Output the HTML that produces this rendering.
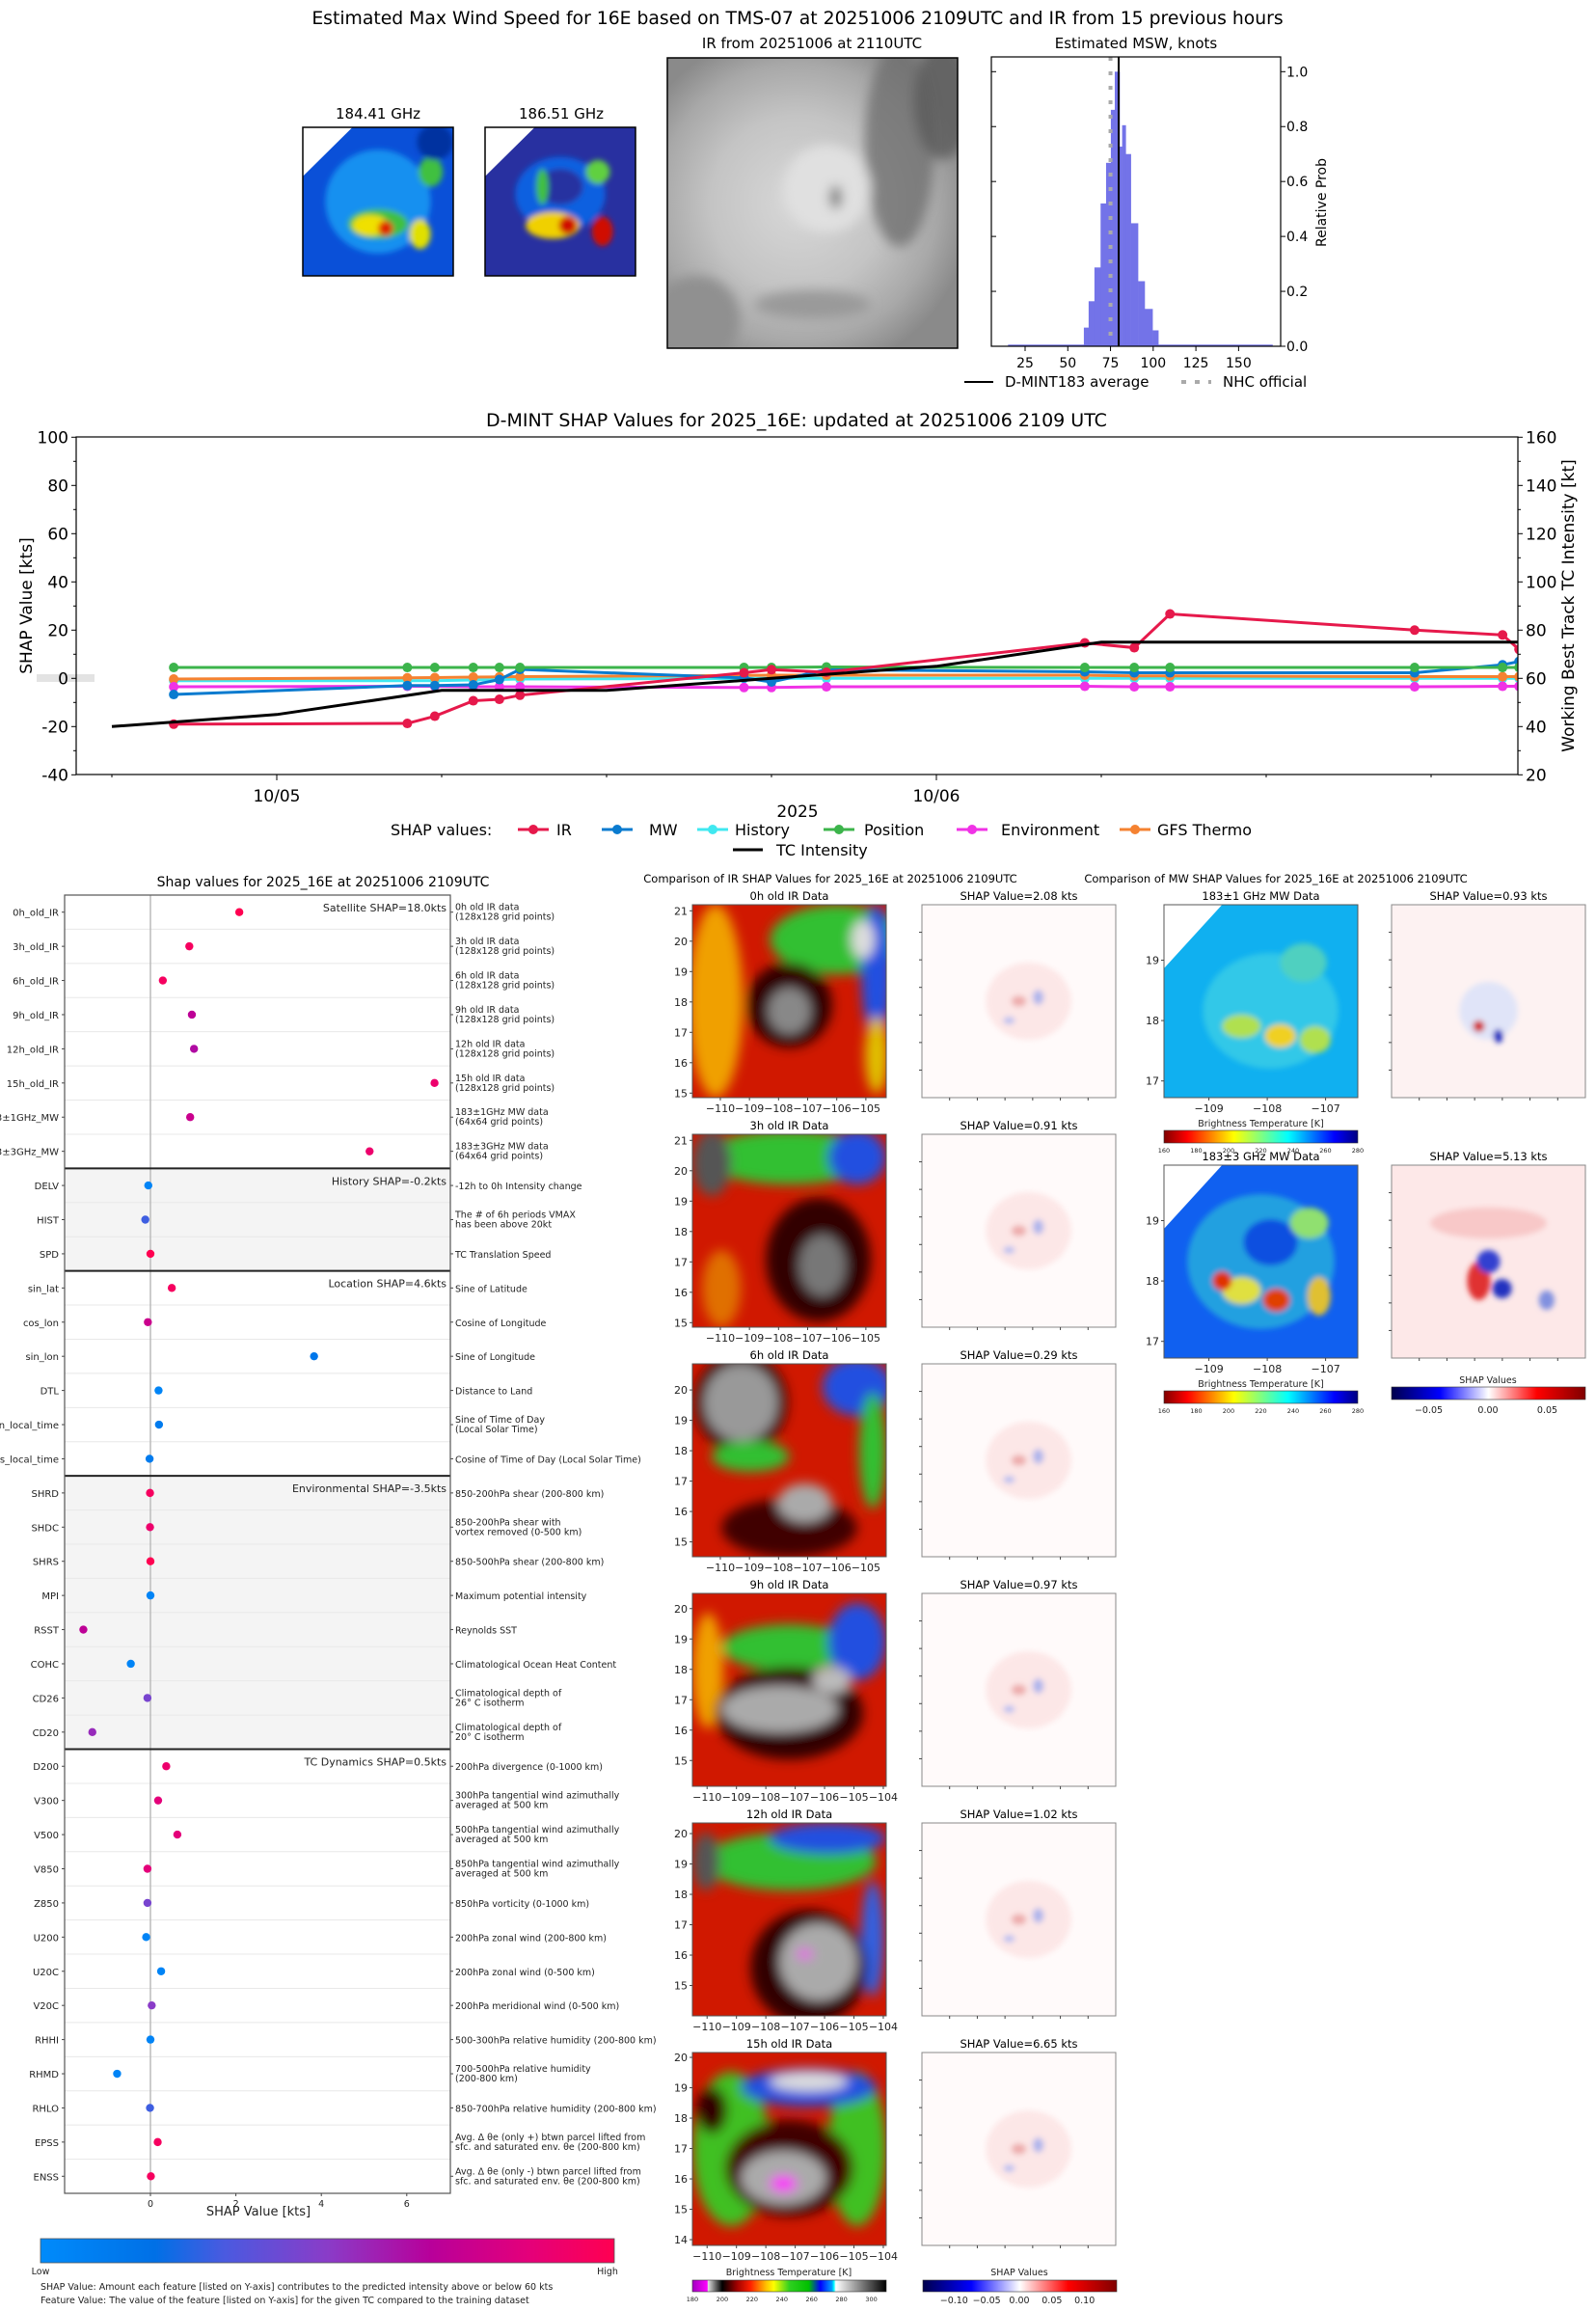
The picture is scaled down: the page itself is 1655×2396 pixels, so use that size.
<!DOCTYPE html>
<html><head><meta charset="utf-8"><title>D-MINT 16E</title>
<style>
html,body{margin:0;padding:0;background:#fff;}
svg{display:block;font-family:"DejaVu Sans","Liberation Sans",sans-serif;}
</style></head>
<body>
<svg id="root" width="1655" height="2396" viewBox="0 0 1655 2396" xmlns="http://www.w3.org/2000/svg">
<defs>
<filter id="blur6" x="-30%" y="-30%" width="160%" height="160%"><feGaussianBlur stdDeviation="6"/></filter>
<filter id="blur3" x="-30%" y="-30%" width="160%" height="160%"><feGaussianBlur stdDeviation="3"/></filter>
<linearGradient id="shapcmap" x1="0" x2="1" y1="0" y2="0">
<stop offset="0" stop-color="#008bfb"/><stop offset="0.2" stop-color="#0070e6"/><stop offset="0.32" stop-color="#4a5ae0"/><stop offset="0.5" stop-color="#8a3cc8"/><stop offset="0.68" stop-color="#b8009a"/><stop offset="0.85" stop-color="#e4007a"/><stop offset="1" stop-color="#ff0051"/>
</linearGradient>
<linearGradient id="btcmap" x1="0" x2="1" y1="0" y2="0">
<stop offset="0" stop-color="#a000c0"/><stop offset="0.077" stop-color="#ff00ff"/><stop offset="0.08" stop-color="#e0e0e0"/><stop offset="0.154" stop-color="#000"/><stop offset="0.23" stop-color="#a00000"/><stop offset="0.3" stop-color="#ff2000"/><stop offset="0.38" stop-color="#ffc000"/><stop offset="0.42" stop-color="#ffff00"/><stop offset="0.5" stop-color="#30d020"/><stop offset="0.6" stop-color="#00c000"/><stop offset="0.66" stop-color="#0000ff"/><stop offset="0.72" stop-color="#00a0ff"/><stop offset="0.73" stop-color="#00ffff"/><stop offset="0.74" stop-color="#ffffff"/><stop offset="1" stop-color="#000"/>
</linearGradient>
<linearGradient id="jetr" x1="0" x2="1" y1="0" y2="0">
<stop offset="0" stop-color="#800000"/><stop offset="0.12" stop-color="#ff0000"/><stop offset="0.36" stop-color="#ffff00"/><stop offset="0.5" stop-color="#80ff80"/><stop offset="0.64" stop-color="#00ffff"/><stop offset="0.88" stop-color="#0000ff"/><stop offset="1" stop-color="#000080"/>
</linearGradient>
<linearGradient id="bwr" x1="0" x2="1" y1="0" y2="0">
<stop offset="0" stop-color="#00004c"/><stop offset="0.25" stop-color="#0000ff"/><stop offset="0.5" stop-color="#ffffff"/><stop offset="0.75" stop-color="#ff0000"/><stop offset="1" stop-color="#800000"/>
</linearGradient>
<radialGradient id="irgray" cx="0.45" cy="0.5" r="0.6">
<stop offset="0" stop-color="#d8d8d8"/><stop offset="0.5" stop-color="#c4c4c4"/><stop offset="0.8" stop-color="#a8a8a8"/><stop offset="1" stop-color="#8a8a8a"/>
</radialGradient>
</defs>
</svg>
<script>
// ===== data arrays =====
const histEdges = [59.4,62.2,65.6,69.2,72.4,75.2,77.5,80.3,81.8,83.9,86.9,91.1,95.0,99.6,103.0];
const histProb = [0.068,0.164,0.287,0.52,0.668,0.861,1.0,0.727,0.805,0.70,0.448,0.237,0.136,0.058];
const histXTicks = [25,50,75,100,125,150];
const histYTicks = [0.0,0.2,0.4,0.6,0.8,1.0];
const dmintAvg = 79.8;
const nhcOfficial = 75;

const tsHours = [-3.75,4.75,5.75,7.15,8.1,8.85,17,18,20,29.4,31.2,32.5,41.4,44.6,45.2];
const shapIR = [-19,-18.7,-15.7,-9.3,-8.7,-7,2.3,3.6,2.5,14.7,12.7,26.7,20,18,12];
const shapMW = [-6.7,-3,-3,-2.7,-0.5,3.7,0.2,-1.5,3.6,2.7,2.3,2.3,2.3,5.6,7];
const shapHist = [-1,-1,-1,-0.7,-0.5,-0.3,0,0,0,0,0,0,0,0,0];
const shapPos = [4.5,4.5,4.5,4.5,4.5,4.5,4.5,4.5,4.7,4.5,4.5,4.5,4.5,4.5,4.5];
const shapEnv = [-3.5,-3.3,-3.3,-3.5,-3.5,-3.5,-3.8,-3.8,-3.5,-3.3,-3.5,-3.5,-3.5,-3.3,-3.3];
const shapGFS = [-0.3,0.2,0.3,0.5,0.6,0.7,1.2,1.3,1.3,1.3,1.0,1.0,0.7,0.7,0.7];
const tcHours = [-6,0,6,12,18,24,30,45.2];
const tcIntensity = [40,45,55,55,60,65,75,75];
const tsLeftTicks = [-40,-20,0,20,40,60,80,100];
const tsRightTicks = [20,40,60,80,100,120,140,160];
const tsDateTicks = ['10/05','10/06'];
const tsDateHours = [0,24];

const featNames = ['0h_old_IR','3h_old_IR','6h_old_IR','9h_old_IR','12h_old_IR','15h_old_IR','183±1GHz_MW','183±3GHz_MW','DELV','HIST','SPD','sin_lat','cos_lon','sin_lon','DTL','sin_local_time','cos_local_time','SHRD','SHDC','SHRS','MPI','RSST','COHC','CD26','CD20','D200','V300','V500','V850','Z850','U200','U20C','V20C','RHHI','RHMD','RHLO','EPSS','ENSS'];
const featShap = [2.08,0.91,0.29,0.97,1.02,6.65,0.93,5.13,-0.05,-0.12,0,0.5,-0.06,3.83,0.19,0.2,-0.02,-0.01,-0.01,0,0,-1.57,-0.46,-0.07,-1.36,0.37,0.18,0.63,-0.07,-0.07,-0.1,0.25,0.03,0,-0.78,-0.01,0.17,0.01];
const featValue = [1,0.95,0.95,0.7,0.65,0.9,0.75,0.9,0.05,0.3,1,0.95,0.75,0.15,0.05,0.12,0.12,0.95,0.9,1,0.05,0.7,0.05,0.45,0.55,0.9,0.85,0.85,0.85,0.45,0.05,0.05,0.5,0.05,0.05,0.3,0.95,0.95];
const featDesc = [['0h old IR data','(128x128 grid points)'],['3h old IR data','(128x128 grid points)'],['6h old IR data','(128x128 grid points)'],['9h old IR data','(128x128 grid points)'],['12h old IR data','(128x128 grid points)'],['15h old IR data','(128x128 grid points)'],['183±1GHz MW data','(64x64 grid points)'],['183±3GHz MW data','(64x64 grid points)'],['-12h to 0h Intensity change'],['The # of 6h periods VMAX','has been above 20kt'],['TC Translation Speed'],['Sine of Latitude'],['Cosine of Longitude'],['Sine of Longitude'],['Distance to Land'],['Sine of Time of Day','(Local Solar Time)'],['Cosine of Time of Day (Local Solar Time)'],['850-200hPa shear (200-800 km)'],['850-200hPa shear with','vortex removed (0-500 km)'],['850-500hPa shear (200-800 km)'],['Maximum potential intensity'],['Reynolds SST'],['Climatological Ocean Heat Content'],['Climatological depth of','26° C isotherm'],['Climatological depth of','20° C isotherm'],['200hPa divergence (0-1000 km)'],['300hPa tangential wind azimuthally','averaged at 500 km'],['500hPa tangential wind azimuthally','averaged at 500 km'],['850hPa tangential wind azimuthally','averaged at 500 km'],['850hPa vorticity (0-1000 km)'],['200hPa zonal wind (200-800 km)'],['200hPa zonal wind (0-500 km)'],['200hPa meridional wind (0-500 km)'],['500-300hPa relative humidity (200-800 km)'],['700-500hPa relative humidity','(200-800 km)'],['850-700hPa relative humidity (200-800 km)'],['Avg. Δ θe (only +) btwn parcel lifted from','sfc. and saturated env. θe (200-800 km)'],['Avg. Δ θe (only -) btwn parcel lifted from','sfc. and saturated env. θe (200-800 km)']];
const groupNames = ['Satellite SHAP=18.0kts','History SHAP=-0.2kts','Location SHAP=4.6kts','Environmental SHAP=-3.5kts','TC Dynamics SHAP=0.5kts'];
const groupStart = [0,8,11,17,25];
const groupEnd = [8,11,17,25,38];
const featXTicks = [0,2,4,6];

const irTitles = ['0h old IR Data','3h old IR Data','6h old IR Data','9h old IR Data','12h old IR Data','15h old IR Data'];
const irShapVals = ['2.08','0.91','0.29','0.97','1.02','6.65'];
const btTicks = [180,200,220,240,260,280,300];
const mwTicks = [160,180,200,220,240,260,280];

// ===== helpers =====
const NS='http://www.w3.org/2000/svg';
const root=document.getElementById('root');
function mk(tag,attrs,parent){const e=document.createElementNS(NS,tag);for(const k in attrs)e.setAttribute(k,attrs[k]);(parent||root).appendChild(e);return e;}
function txt(s,x,y,size,anchor,parent,extra){const e=mk('text',Object.assign({x:x,y:y,'font-size':size,'text-anchor':anchor||'start',fill:'#000'},extra||{}),parent);e.textContent=s;return e;}
function grp(parent){return mk('g',{},parent);}

// ===== top title =====
let t=txt('Estimated Max Wind Speed for 16E based on TMS-07 at 20251006 2109UTC and IR from 15 previous hours',827,25,18.8,'middle');



// ===== top microwave images =====
function mwImage(x,y,w,h,base,blobs,name){
  const g=grp();
  
  
  const cid='c'+name;
  const cp=mk('clipPath',{id:cid},g);mk('rect',{x:x,y:y,width:w,height:h},cp);
  const inner=mk('g',{'clip-path':'url(#'+cid+')'},g);
  mk('rect',{x:x,y:y,width:w,height:h,fill:base},inner);
  const bl=mk('g',{filter:'url(#blur3)'},inner);
  blobs.forEach(b=>mk('ellipse',{cx:x+b[0]*w,cy:y+b[1]*h,rx:b[2]*w,ry:b[3]*h,fill:b[4]},bl));
  mk('polygon',{points:`${x},${y} ${x+0.33*w},${y} ${x},${y+0.33*h}`,fill:'#fff'},inner);
  mk('rect',{x:x,y:y,width:w,height:h,fill:'none',stroke:'#000','stroke-width':1.5},g);
  return g;
}
t=txt('184.41 GHz',392,123,15,'middle');


t=txt('186.51 GHz',582,123,15,'middle');


mwImage(314,132,156,154,'#0a50d8',[[0.5,0.5,0.35,0.35,'#1890f0'],[0.85,0.3,0.08,0.1,'#40c040'],[0.5,0.65,0.2,0.1,'#40c040'],[0.45,0.66,0.12,0.07,'#f0e000'],[0.55,0.68,0.05,0.05,'#e02000'],[0.78,0.72,0.07,0.1,'#e0e000'],[0.88,0.1,0.12,0.12,'#0030a0']],'mw184-image');
mwImage(503,132,156,154,'#2830a0',[[0.5,0.45,0.3,0.25,'#1060e0'],[0.5,0.4,0.15,0.12,'#2830a0'],[0.75,0.3,0.08,0.08,'#60d040'],[0.38,0.4,0.04,0.12,'#40c040'],[0.45,0.66,0.18,0.09,'#f0d000'],[0.55,0.66,0.06,0.06,'#d01000'],[0.78,0.7,0.07,0.1,'#d01000']],'mw186-image');

// IR grayscale
t=txt('IR from 20251006 at 2110UTC',842,50,15,'middle');


(function(){
  const x=692,y=60,w=301,h=301;
  const g=grp();
  
  
  const cp=mk('clipPath',{id:'cirg'},g);mk('rect',{x:x,y:y,width:w,height:h},cp);
  const inner=mk('g',{'clip-path':'url(#cirg)'},g);
  mk('rect',{x:x,y:y,width:w,height:h,fill:'url(#irgray)'},inner);
  const bl=mk('g',{filter:'url(#blur6)'},inner);
  mk('ellipse',{cx:x+0.8*w,cy:y+0.3*h,rx:0.12*w,ry:0.35*h,fill:'#707070',opacity:0.8},bl);
  mk('ellipse',{cx:x+0.95*w,cy:y+0.15*h,rx:0.1*w,ry:0.2*h,fill:'#5a5a5a',opacity:0.8},bl);
  mk('ellipse',{cx:x+0.55*w,cy:y+0.45*h,rx:0.15*w,ry:0.15*h,fill:'#e0e0e0'},bl);
  mk('ellipse',{cx:x+0.58*w,cy:y+0.48*h,rx:0.02*w,ry:0.04*h,fill:'#707070'},bl);
  mk('ellipse',{cx:x+0.1*w,cy:y+0.9*h,rx:0.15*w,ry:0.15*h,fill:'#909090'},bl);
  mk('ellipse',{cx:x+0.5*w,cy:y+0.85*h,rx:0.2*w,ry:0.05*h,fill:'#9a9a9a'},bl);
  mk('rect',{x:x,y:y,width:w,height:h,fill:'none',stroke:'#000','stroke-width':1.5},g);
})();

// histogram
(function(){
  const L=1028,R=1328,T=59,B=359;
  const xs=v=>1063+(v-25)*1.771, ys=p=>B-p*284.7;
  t=txt('Estimated MSW, knots',1178,50,15,'middle');
  
  
  const g=grp();
  
  
  let tail=mk('rect',{x:xs(15),y:ys(0.006),width:xs(170)-xs(15),height:ys(0)-ys(0.006),fill:'#7373e8'},g);
  
  
  for(let i=0;i<histProb.length;i++){
    const r=mk('rect',{x:xs(histEdges[i]),y:ys(histProb[i]),width:xs(histEdges[i+1])-xs(histEdges[i])+0.3,height:ys(0)-ys(histProb[i]),fill:'#7373e8'},g);
    
    
  }
  let nl=mk('line',{x1:xs(nhcOfficial),x2:xs(nhcOfficial),y1:T,y2:B,stroke:'#aaa','stroke-width':4,'stroke-dasharray':'4,11'},g);
  
  
  let al=mk('line',{x1:xs(dmintAvg),x2:xs(dmintAvg),y1:T,y2:B,stroke:'#000','stroke-width':2},g);
  
  
  let fr=mk('rect',{x:L,y:T,width:R-L,height:B-T,fill:'none',stroke:'#000','stroke-width':1.2},g);
  
  
  histXTicks.forEach(v=>{mk('line',{x1:xs(v),x2:xs(v),y1:B,y2:B+5,stroke:'#000'},g);const l=txt(String(v),xs(v),B+22,14,'middle',g);});
  histYTicks.forEach(v=>{mk('line',{x1:R,x2:R+5,y1:ys(v),y2:ys(v),stroke:'#000'},g);mk('line',{x1:L,x2:L+5,y1:ys(v),y2:ys(v),stroke:'#000'},g);const l=txt(v.toFixed(1),R+6,ys(v)+5,14,'start',g);});
  let yl=txt('Relative Prob',0,0,14,'middle',g,{transform:'translate(1375,210) rotate(-90)'});
  
  
  let lg=grp();
  
  
  mk('line',{x1:1000,x2:1030,y1:396,y2:396,stroke:'#000','stroke-width':2},lg);
  txt('D-MINT183 average',1042,401,15,'start',lg);
  mk('line',{x1:1225,x2:1256,y1:396,y2:396,stroke:'#aaa','stroke-width':4,'stroke-dasharray':'5,9'},lg);
  txt('NHC official',1268,401,15,'start',lg);
})();

// ===== timeline SHAP chart =====
(function(){
  const L=79,R=1574,T=453,B=803;
  const xs=h=>287+h*28.5, ys=v=>703.3-v*2.5;
  t=txt('D-MINT SHAP Values for 2025_16E: updated at 20251006 2109 UTC',826,442,19,'middle');
  
  
  const g=grp();
  
  
  let band=mk('rect',{x:38,y:699,width:60,height:8,fill:'#e3e3e3'},g);
  
  
  const cp=mk('clipPath',{id:'tsclip'},g);mk('rect',{x:L,y:T,width:R-L,height:B-T},cp);
  const plot=mk('g',{'clip-path':'url(#tsclip)'},g);
  const series=[[shapHist,'#40e8f0','History'],[shapGFS,'#f58231','GFS Thermo'],[shapEnv,'#f032e6','Environment'],[shapMW,'#0a7bcf','MW'],[shapPos,'#3cb44b','Position'],[shapIR,'#e6194b','IR']];
  series.forEach(s=>{
    const sg=grp(plot);
    
    
    const pts=tsHours.map((h,i)=>xs(h)+','+ys(s[0][i])).join(' ');
    mk('polyline',{points:pts,fill:'none',stroke:s[1],'stroke-width':3},sg);
    tsHours.forEach((h,i)=>{const c=mk('circle',{cx:xs(h),cy:ys(s[0][i]),r:5,fill:s[1]},sg);});
  });
  const tc=mk('polyline',{points:tcHours.map((h,i)=>xs(h)+','+ys(tcIntensity[i]-60)).join(' '),fill:'none',stroke:'#000','stroke-width':3},plot);
  
  
  mk('rect',{x:L,y:T,width:R-L,height:B-T,fill:'none',stroke:'#000','stroke-width':1.2},g);
  tsLeftTicks.forEach(v=>{mk('line',{x1:L-5,x2:L,y1:ys(v),y2:ys(v),stroke:'#000'},g);const l=txt(String(v),L-8,ys(v)+6,17,'end',g);});
  for(let v=-30;v<100;v+=20){mk('line',{x1:L-3,x2:L,y1:ys(v),y2:ys(v),stroke:'#000'},g);}
  tsRightTicks.forEach(v=>{mk('line',{x1:R,x2:R+5,y1:ys(v-60),y2:ys(v-60),stroke:'#000'},g);const l=txt(String(v),R+8,ys(v-60)+6,17,'start',g);});
  for(let v=-30;v<100;v+=20){mk('line',{x1:R,x2:R+3,y1:ys(v),y2:ys(v),stroke:'#000'},g);}
  for(let h=-6;h<=42;h+=6){mk('line',{x1:xs(h),x2:xs(h),y1:B,y2:B+(h%24===0?6:3),stroke:'#000'},g);}
  tsDateTicks.forEach((d,i)=>{const l=txt(d,xs(tsDateHours[i]),B+28,17,'middle',g);});
  let yr=txt('2025',827,847,17,'middle',g);
  
  
  let ly=txt('SHAP Value [kts]',0,0,17,'middle',g,{transform:'translate(33,628) rotate(-90)'});
  
  
  let ry=txt('Working Best Track TC Intensity [kt]',0,0,17,'middle',g,{transform:'translate(1632,628) rotate(-90)'});
  
  
  const lg=grp();
  
  
  txt('SHAP values:',405,866,16,'start',lg);
  const le=[['IR','#e6194b',553,577],['MW','#0a7bcf',640,673],['History','#40e8f0',739,762],['Position','#3cb44b',870,896],['Environment','#f032e6',1008,1038],['GFS Thermo','#f58231',1177,1200]];
  le.forEach(e=>{const eg=grp(lg);mk('line',{x1:e[2]-16,x2:e[2]+16,y1:860,y2:860,stroke:e[1],'stroke-width':3},eg);mk('circle',{cx:e[2],cy:860,r:5,fill:e[1]},eg);txt(e[0],e[3],866,16,'start',eg);});
  const tg=grp(lg);
  
  
  mk('line',{x1:760,x2:791,y1:881,y2:881,stroke:'#000','stroke-width':3},tg);
  txt('TC Intensity',805,887,16,'start',tg);
})();

// ===== feature SHAP chart =====
(function(){
  const L=67,R=467,T=928,B=2274,N=featNames.length,rh=(B-T)/N;
  const xs=v=>156+v*44.3, yc=i=>T+(i+0.5)*rh;
  t=txt('Shap values for 2025_16E at 20251006 2109UTC',335,919,14,'middle');
  
  
  const g=grp();
  
  
  [1,3].forEach(k=>{const r=mk('rect',{x:L,y:T+groupStart[k]*rh,width:R-L,height:(groupEnd[k]-groupStart[k])*rh,fill:'#f4f4f4'},g);});
  for(let i=1;i<N;i++){mk('line',{x1:L,x2:R,y1:T+i*rh,y2:T+i*rh,stroke:'#e8e8e8','stroke-width':1},g);}
  mk('line',{x1:xs(0),x2:xs(0),y1:T,y2:B,stroke:'#bbb','stroke-width':1.5},g);
  groupStart.forEach((s,k)=>{
    if(k>0){const l=mk('line',{x1:L,x2:R,y1:T+s*rh,y2:T+s*rh,stroke:'#222','stroke-width':2},g);}
    const a=txt(groupNames[k],R-4,T+s*rh+17,11,'end',g,{fill:'#222'});
    
    
  });
  const cols=['#008bfb','#0070e6','#4a5ae0','#8a3cc8','#b8009a','#e4007a','#ff0051'];
  const stops=[0,0.2,0.32,0.5,0.68,0.85,1];
  function cmap(v){let i=0;while(i<stops.length-2&&v>stops[i+1])i++;const f=(v-stops[i])/(stops[i+1]-stops[i]);const a=cols[i],b=cols[i+1];const c=[1,3,5].map(j=>Math.round(parseInt(a.substr(j,2),16)*(1-f)+parseInt(b.substr(j,2),16)*f));return 'rgb('+c.join(',')+')';}
  for(let i=0;i<N;i++){
    const lab=txt(featNames[i],L-6,yc(i)+4,10,'end',g,{fill:'#222'});
    
    
    mk('line',{x1:L-3,x2:L,y1:yc(i),y2:yc(i),stroke:'#444'},g);
    mk('line',{x1:R,x2:R+3,y1:yc(i),y2:yc(i),stroke:'#444'},g);
    const d=featDesc[i];
    const dt=mk('text',{x:R+5,y:d.length>1?yc(i)-2:yc(i)+4,'font-size':9.5,fill:'#222'},g);
    
    
    d.forEach((s,j)=>{const ts=mk('tspan',{x:R+5,dy:j?10:0},dt);ts.textContent=s;});
    const c=mk('circle',{cx:xs(featShap[i]),cy:yc(i),r:4.2,fill:cmap(featValue[i])},g);
    
    
  }
  mk('rect',{x:L,y:T,width:R-L,height:B-T,fill:'none',stroke:'#555','stroke-width':1.2},g);
  featXTicks.forEach(v=>{mk('line',{x1:xs(v),x2:xs(v),y1:B,y2:B+3,stroke:'#444'},g);const l=txt(String(v),xs(v),B+14,9.5,'middle',g,{fill:'#222'});});
  let xl=txt('SHAP Value [kts]',268,2297,13,'middle',g,{fill:'#222'});
  
  
  let cb=mk('rect',{x:42,y:2321,width:595,height:25,fill:'url(#shapcmap)',stroke:'#555','stroke-width':0.8});
  
  
  let lo=txt('Low',42,2358,9.5,'middle',root,{fill:'#222'});
  
  
  let hi=txt('High',630,2358,9.5,'middle',root,{fill:'#222'});
  
  
  let n1=txt('SHAP Value: Amount each feature [listed on Y-axis] contributes to the predicted intensity above or below 60 kts',42,2374,9.5,'start',root,{fill:'#222'});
  
  
  let n2=txt('Feature Value: The value of the feature [listed on Y-axis] for the given TC compared to the training dataset',42,2388,9.5,'start',root,{fill:'#222'});
  
  
})();

// ===== IR comparison panels =====
const irBlobs=[
 [[0.12,0.5,0.14,0.5,'#f0a000'],[0.75,0.18,0.35,0.18,'#30c030'],[0.95,0.35,0.08,0.35,'#2050e0'],[0.88,0.18,0.06,0.1,'#dddddd'],[0.5,0.52,0.22,0.22,'#300000'],[0.5,0.55,0.11,0.12,'#888888'],[0.95,0.78,0.06,0.2,'#e0c000']],
 [[0.5,0.12,0.45,0.14,'#30c030'],[0.85,0.12,0.15,0.14,'#2050e0'],[0.1,0.15,0.1,0.17,'#555555'],[0.65,0.65,0.27,0.32,'#300000'],[0.67,0.68,0.12,0.16,'#777777'],[0.15,0.8,0.1,0.2,'#e07000']],
 [[0.85,0.12,0.18,0.15,'#2050e0'],[0.93,0.45,0.07,0.3,'#30c030'],[0.25,0.2,0.24,0.26,'#300000'],[0.25,0.2,0.19,0.2,'#999999'],[0.3,0.48,0.2,0.08,'#30c030'],[0.5,0.85,0.35,0.15,'#400000'],[0.58,0.72,0.14,0.1,'#aaaaaa']],
 [[0.5,0.28,0.35,0.12,'#30c030'],[0.85,0.25,0.15,0.2,'#2050e0'],[0.08,0.4,0.08,0.3,'#f0a000'],[0.5,0.62,0.38,0.24,'#300000'],[0.45,0.6,0.3,0.12,'#aaaaaa'],[0.72,0.45,0.1,0.07,'#bbbbbb']],
 [[0.5,0.2,0.45,0.15,'#30c030'],[0.7,0.08,0.3,0.08,'#2050e0'],[0.93,0.6,0.06,0.3,'#3060e0'],[0.07,0.2,0.07,0.15,'#555555'],[0.6,0.75,0.3,0.3,'#300000'],[0.65,0.72,0.2,0.2,'#aaaaaa'],[0.58,0.68,0.04,0.02,'#ff00ff']],
 [[0.2,0.5,0.2,0.4,'#40c020'],[0.85,0.5,0.15,0.4,'#40c020'],[0.6,0.18,0.35,0.1,'#2050e0'],[0.6,0.15,0.2,0.05,'#dddddd'],[0.1,0.3,0.08,0.12,'#300000'],[0.5,0.6,0.33,0.25,'#400000'],[0.47,0.65,0.22,0.14,'#aaaaaa'],[0.47,0.68,0.07,0.04,'#ff00ff']]
];
const irLatTop=[21.2,21.2,20.86,20.5,20.35,20.16];
const irLonRange=[[-110.96,-104.3],[-110.96,-104.3],[-110.96,-104.3],[-110.5,-103.9],[-110.5,-103.9],[-110.5,-103.9]];
t=txt('Comparison of IR SHAP Values for 2025_16E at 20251006 2109UTC',861,915,11.5,'middle');


for(let r=0;r<6;r++){
  const x=718,y=938+r*238,w=201,h=200;
  const g=grp();
  
  
  txt(irTitles[r],x+w/2,y-5,11.5,'middle',g);
  const cp=mk('clipPath',{id:'irc'+r},g);mk('rect',{x:x,y:y,width:w,height:h},cp);
  const inner=mk('g',{'clip-path':'url(#irc'+r+')'},g);
  mk('rect',{x:x,y:y,width:w,height:h,fill:'#d01800'},inner);
  const bl=mk('g',{filter:'url(#blur6)'},inner);
  irBlobs[r].forEach(b=>mk('ellipse',{cx:x+b[0]*w,cy:y+b[1]*h,rx:b[2]*w,ry:b[3]*h,fill:b[4]},bl));
  mk('rect',{x:x,y:y,width:w,height:h,fill:'none',stroke:'#555'},g);
  const top=irLatTop[r];
  for(let lat=Math.ceil(top-6.3);lat<=Math.floor(top);lat++){const yy=y+(top-lat)*31.5;if(yy>y+h)continue;mk('line',{x1:x-3,x2:x,y1:yy,y2:yy,stroke:'#444'},g);const l=txt(String(lat),x-5,yy+4,11,'end',g,{fill:'#222'});}
  const lr=irLonRange[r],pd=w/(lr[1]-lr[0]);
  for(let lon=Math.ceil(lr[0]);lon<=Math.floor(lr[1]);lon++){const xx=x+(lon-lr[0])*pd;mk('line',{x1:xx,x2:xx,y1:y+h,y2:y+h+3,stroke:'#444'},g);const l=txt('\u2212'+Math.abs(lon),xx,y+h+15,11,'middle',g,{fill:'#222'});}
  const sx=956,sg=grp();
  
  
  txt('SHAP Value='+irShapVals[r]+' kts',sx+w/2,y-5,11.5,'middle',sg);
  mk('rect',{x:sx,y:y,width:w,height:h,fill:'#fffafa',stroke:'#888'},sg);
  const sb=mk('g',{filter:'url(#blur3)',opacity:0.55},sg);
  mk('ellipse',{cx:sx+0.55*w,cy:y+0.5*h,rx:0.22*w,ry:0.2*h,fill:'#fbd8d8'},sb);
  mk('ellipse',{cx:sx+0.5*w,cy:y+0.5*h,rx:0.04*w,ry:0.03*h,fill:'#e07070'},sb);
  mk('ellipse',{cx:sx+0.6*w,cy:y+0.48*h,rx:0.03*w,ry:0.04*h,fill:'#7080e0'},sb);
  mk('ellipse',{cx:sx+0.45*w,cy:y+0.6*h,rx:0.03*w,ry:0.02*h,fill:'#8090e8'},sb);
  for(let k=1;k<7;k++){mk('line',{x1:sx+k*w/7,x2:sx+k*w/7,y1:y+h,y2:y+h+3,stroke:'#444'},sg);mk('line',{x1:sx-3,x2:sx,y1:y+k*h/7,y2:y+k*h/7,stroke:'#444'},sg);}
}
(function(){
  const g=grp();
  
  
  txt('Brightness Temperature [K]',818,2359,9.5,'middle',g,{fill:'#222'});
  mk('rect',{x:718,y:2364,width:201,height:12,fill:'url(#btcmap)',stroke:'#333','stroke-width':0.6},g);
  btTicks.forEach(v=>{const xx=718+(v-180)/130*201;const l=txt(String(v),xx,2386,6.5,'middle',g,{fill:'#222'});});
  const g2=grp();
  
  
  txt('SHAP Values',1057,2359,9.5,'middle',g2,{fill:'#222'});
  mk('rect',{x:957,y:2364,width:201,height:12,fill:'url(#bwr)',stroke:'#333','stroke-width':0.6},g2);
  [-0.10,-0.05,0.00,0.05,0.10].forEach(v=>{const xx=1057+v*677;const l=txt((v<0?'\u2212':'')+Math.abs(v).toFixed(2),xx,2388,9.5,'middle',g2,{fill:'#222'});});
})();

// ===== MW comparison panels =====
t=txt('Comparison of MW SHAP Values for 2025_16E at 20251006 2109UTC',1323,915,11.5,'middle');


const mwTitles=['183±1 GHz MW Data','183±3 GHz MW Data'];
const mwShap=['0.93','5.13'];
const mwBase=['#10b0f0','#1060f0'];
const mwBlobs=[
 [[0.55,0.55,0.35,0.3,'#30c8e8'],[0.4,0.63,0.1,0.06,'#b0e050'],[0.6,0.68,0.08,0.06,'#f0d020'],[0.78,0.7,0.08,0.07,'#b0e050'],[0.72,0.3,0.12,0.1,'#50d0c0']],
 [[0.5,0.5,0.38,0.35,'#20a0e0'],[0.55,0.4,0.14,0.12,'#1050e0'],[0.4,0.65,0.1,0.07,'#e0e040'],[0.3,0.6,0.05,0.05,'#e03000'],[0.58,0.7,0.07,0.06,'#e04000'],[0.8,0.68,0.06,0.1,'#e0c030'],[0.75,0.3,0.1,0.08,'#90e070']]
];
for(let r=0;r<2;r++){
  const x=1207,y=r?1208:938,w=201,h=200;
  const g=grp();
  
  
  txt(mwTitles[r],x+w/2,y-5,11.5,'middle',g);
  const cp=mk('clipPath',{id:'mwc'+r},g);mk('rect',{x:x,y:y,width:w,height:h},cp);
  const inner=mk('g',{'clip-path':'url(#mwc'+r+')'},g);
  mk('rect',{x:x,y:y,width:w,height:h,fill:mwBase[r]},inner);
  const bl=mk('g',{filter:'url(#blur3)'},inner);
  mwBlobs[r].forEach(b=>mk('ellipse',{cx:x+b[0]*w,cy:y+b[1]*h,rx:b[2]*w,ry:b[3]*h,fill:b[4]},bl));
  mk('polygon',{points:`${x},${y} ${x+0.3*w},${y} ${x},${y+0.33*h}`,fill:'#fff'},inner);
  mk('rect',{x:x,y:y,width:w,height:h,fill:'none',stroke:'#555'},g);
  [19,18,17].forEach((lat,k)=>{const yy=y+57.5+k*62.6;mk('line',{x1:x-3,x2:x,y1:yy,y2:yy,stroke:'#444'},g);const l=txt(String(lat),x-5,yy+4,11,'end',g,{fill:'#222'});});
  [-109,-108,-107].forEach((lon,k)=>{const xx=x+46.6+k*60.5;mk('line',{x1:xx,x2:xx,y1:y+h,y2:y+h+3,stroke:'#444'},g);const l=txt('\u2212'+Math.abs(lon),xx,y+h+15,11,'middle',g,{fill:'#222'});});
  const cg=grp(g);
  
  
  txt('Brightness Temperature [K]',x+w/2,y+h+30,9.5,'middle',cg,{fill:'#222'});
  mk('rect',{x:x,y:y+h+34,width:w,height:13,fill:'url(#jetr)',stroke:'#333','stroke-width':0.6},cg);
  mwTicks.forEach(v=>{const xx=x+(v-160)/120*w;const l=txt(String(v),xx,y+h+57,6.5,'middle',cg,{fill:'#222'});});
  const sx=1443,sg=grp();
  
  
  txt('SHAP Value='+mwShap[r]+' kts',sx+w/2,y-5,11.5,'middle',sg);
  mk('rect',{x:sx,y:y,width:w,height:h,fill:r?'#fde8e8':'#fdf2f2',stroke:'#888'},sg);
  const sb=mk('g',{filter:'url(#blur3)'},sg);
  if(r){
    mk('ellipse',{cx:sx+0.5*w,cy:y+0.3*h,rx:0.3*w,ry:0.08*h,fill:'#f8c8c8'},sb);
    mk('ellipse',{cx:sx+0.45*w,cy:y+0.6*h,rx:0.06*w,ry:0.1*h,fill:'#e03030'},sb);
    mk('ellipse',{cx:sx+0.5*w,cy:y+0.5*h,rx:0.06*w,ry:0.06*h,fill:'#3040d0'},sb);
    mk('ellipse',{cx:sx+0.57*w,cy:y+0.64*h,rx:0.05*w,ry:0.05*h,fill:'#2030c0'},sb);
    mk('ellipse',{cx:sx+0.8*w,cy:y+0.7*h,rx:0.04*w,ry:0.05*h,fill:'#8090e0'},sb);
  } else {
    mk('ellipse',{cx:sx+0.5*w,cy:y+0.55*h,rx:0.15*w,ry:0.15*h,fill:'#e0e4f8'},sb);
    mk('ellipse',{cx:sx+0.45*w,cy:y+0.63*h,rx:0.03*w,ry:0.03*h,fill:'#d02020'},sb);
    mk('ellipse',{cx:sx+0.55*w,cy:y+0.68*h,rx:0.025*w,ry:0.035*h,fill:'#1020c0'},sb);
  }
  for(let k=1;k<7;k++){mk('line',{x1:sx+k*w/7,x2:sx+k*w/7,y1:y+h,y2:y+h+3,stroke:'#444'},sg);mk('line',{x1:sx-3,x2:sx,y1:y+k*h/7,y2:y+k*h/7,stroke:'#444'},sg);}
}
(function(){
  const g=grp();
  
  
  txt('SHAP Values',1543,1434,9.5,'middle',g,{fill:'#222'});
  mk('rect',{x:1443,y:1438,width:201,height:13,fill:'url(#bwr)',stroke:'#333','stroke-width':0.6},g);
  [-0.05,0,0.05].forEach(v=>{const xx=1543+v*1230;const l=txt((v<0?'\u2212':'')+Math.abs(v).toFixed(2),xx,1465,9.5,'middle',g,{fill:'#222'});});
})();
</script>
</body></html>
